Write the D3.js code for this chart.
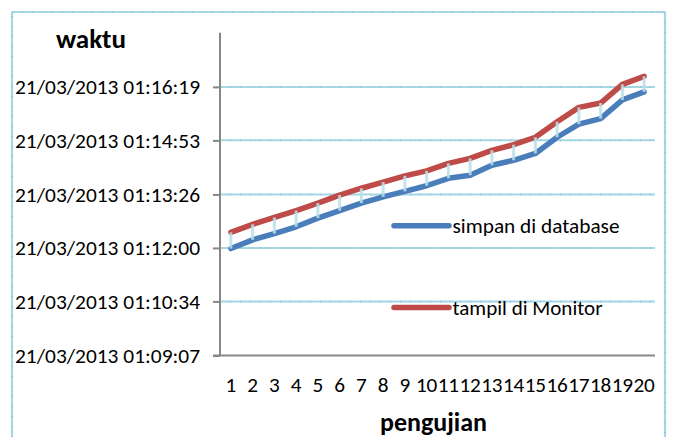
<!DOCTYPE html>
<html><head><meta charset="utf-8">
<script src="https://cdn.jsdelivr.net/npm/d3@7"></script>
<style>body{margin:0;background:#fff} svg{display:block}</style>
</head><body><svg id="c" width="674" height="437"></svg>
<script>
const categories = ["1","2","3","4","5","6","7","8","9","10","11","12","13","14","15","16","17","18","19","20"];
const simpanDiDatabase = ["01:11:59","01:12:13","01:12:23","01:12:34","01:12:48","01:13:00","01:13:12","01:13:22","01:13:31","01:13:40",
  "01:13:52","01:13:57","01:14:13","01:14:21","01:14:32","01:14:58","01:15:19","01:15:28","01:15:58","01:16:11"];
const tampilDiMonitor = ["01:12:25","01:12:38","01:12:49","01:13:00","01:13:12","01:13:25","01:13:36","01:13:46","01:13:56","01:14:04",
  "01:14:16","01:14:24","01:14:37","01:14:46","01:14:58","01:15:23","01:15:46","01:15:53","01:16:23","01:16:36"];
const yTickLabels = ["21/03/2013 01:09:07","21/03/2013 01:10:34","21/03/2013 01:12:00","21/03/2013 01:13:26","21/03/2013 01:14:53","21/03/2013 01:16:19"];
const yAxisMax = "21/03/2013 01:17:46";
const seriesNames = ["simpan di database","tampil di Monitor"];
const yTitle = "waktu";
const xTitle = "pengujian";

const toSec = s => { const t = s.split(" ").pop().split(":").map(Number); return t[0]*3600 + t[1]*60 + t[2]; };

const svg = d3.select("#c");
const font = "Carlito, Lato, 'Open Sans', sans-serif";
const blue = "#4a7ebb", red = "#be4b48", gridCol = "#a6d6e3", tickDot = "#7fc0d3", axisCol = "#878787";

const x = d3.scaleBand().domain(categories).range([220, 655]);
const y = d3.scaleLinear().domain([toSec(yTickLabels[0]), toSec(yAxisMax)]).range([355.5, 32.8]);

// outer chart border (light blue, dotted texture)
const border = [[12,437,12,12],[12,12,665,12],[665,12,665,437]];
border.forEach(b => {
  svg.append("line").attr("x1",b[0]).attr("y1",b[1]).attr("x2",b[2]).attr("y2",b[3])
    .attr("stroke", gridCol).attr("stroke-width", 2.2);
  svg.append("line").attr("x1",b[0]).attr("y1",b[1]).attr("x2",b[2]).attr("y2",b[3])
    .attr("stroke", tickDot).attr("stroke-width", 2.2).attr("stroke-dasharray","1,9").attr("opacity",0.6);
});

// gridlines
const gridVals = yTickLabels.slice(1).map(toSec);
const g = svg.append("g");
gridVals.forEach(v => {
  g.append("line").attr("x1",220).attr("x2",655).attr("y1",y(v)).attr("y2",y(v))
    .attr("stroke", gridCol).attr("stroke-width", 2);
  g.append("line").attr("x1",220).attr("x2",655).attr("y1",y(v)).attr("y2",y(v))
    .attr("stroke", tickDot).attr("stroke-width", 2).attr("stroke-dasharray","1,9").attr("opacity",0.6);
});

// y axis
const yAxis = d3.axisLeft(y).tickValues(yTickLabels.map(toSec)).tickSize(7).tickPadding(13)
  .tickFormat((d,i) => yTickLabels[i]);
const ya = svg.append("g").attr("transform","translate(220,0)").call(yAxis);
ya.select(".domain").attr("stroke", axisCol).attr("stroke-width", 2).attr("d", `M0,${y.range()[1]}V${y.range()[0]}`);
ya.selectAll(".tick line").attr("stroke", axisCol).attr("stroke-width", 2);
ya.selectAll(".tick text").attr("font-family", font).attr("font-size", 21).attr("fill","#000")
  .attr("dy", null).attr("dominant-baseline","central").attr("textLength", 185).attr("lengthAdjust","spacingAndGlyphs");

// x axis
const xAxis = d3.axisBottom(x).tickSize(0).tickPadding(0);
const xa = svg.append("g").attr("transform","translate(0,355.5)").call(xAxis);
xa.select(".domain").attr("stroke", axisCol).attr("stroke-width", 2).attr("d", "M213,0H655");
xa.selectAll(".tick text").attr("font-family", font).attr("font-size", 21).attr("fill","#000")
  .attr("dy", null).attr("y", 36).attr("textLength", d => d.length * 10.75).attr("lengthAdjust","spacingAndGlyphs");

// series lines
const line = vals => d3.line().x((d,i) => x(categories[i]) + x.bandwidth()/2).y(d => y(toSec(d)))(vals);
svg.append("path").attr("d", line(simpanDiDatabase)).attr("fill","none").attr("stroke", blue)
  .attr("stroke-width", 5.5).attr("stroke-linejoin","round").attr("stroke-linecap","round");
svg.append("path").attr("d", line(tampilDiMonitor)).attr("fill","none").attr("stroke", red)
  .attr("stroke-width", 5.5).attr("stroke-linejoin","round").attr("stroke-linecap","round");

// high-low lines
svg.append("g").selectAll("line").data(categories).join("line")
  .attr("x1", d => x(d) + x.bandwidth()/2).attr("x2", d => x(d) + x.bandwidth()/2)
  .attr("y1", (d,i) => y(toSec(simpanDiDatabase[i]))).attr("y2", (d,i) => y(toSec(tampilDiMonitor[i])))
  .attr("stroke", "#b9dfea").attr("stroke-width", 3).attr("opacity", 0.85);

// legend
const legend = [{name: seriesNames[0], color: blue, y: 225.7, w: 167}, {name: seriesNames[1], color: red, y: 307.5, w: 150}];
legend.forEach(l => {
  svg.append("line").attr("x1",394).attr("x2",449).attr("y1",l.y).attr("y2",l.y)
    .attr("stroke", l.color).attr("stroke-width",5.5).attr("stroke-linecap","round");
  svg.append("text").attr("x",452.5).attr("y",l.y).attr("dominant-baseline","central")
    .attr("font-family", font).attr("font-size",21).attr("fill","#000")
    .attr("textLength", l.w).attr("lengthAdjust","spacingAndGlyphs").text(l.name);
});

// titles
svg.append("text").attr("x",91).attr("y",48).attr("text-anchor","middle").attr("font-family",font)
  .attr("font-weight","bold").attr("font-size",25.5).attr("fill","#000")
  .attr("textLength",70).attr("lengthAdjust","spacingAndGlyphs").text(yTitle);
svg.append("text").attr("x",433.5).attr("y",431).attr("text-anchor","middle").attr("font-family",font)
  .attr("font-weight","bold").attr("font-size",25.5).attr("fill","#000")
  .attr("textLength",107).attr("lengthAdjust","spacingAndGlyphs").text(xTitle);
</script>
</body></html>
